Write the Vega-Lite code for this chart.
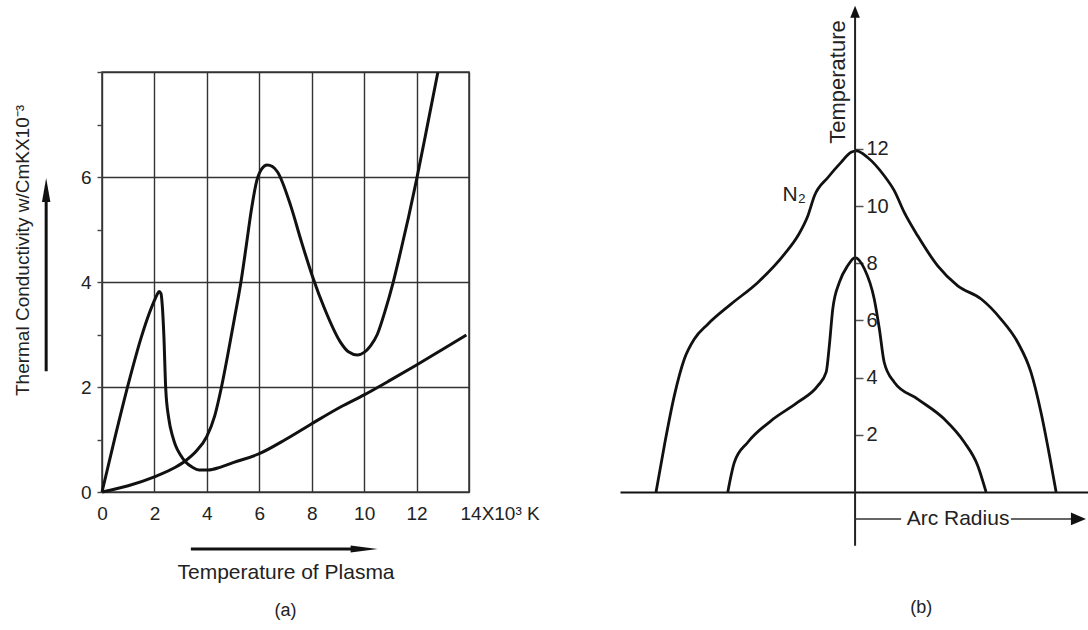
{
  "$schema": "https://vega.github.io/schema/vega-lite/v6.json",
  "background": "white",
  "padding": {"left": 12, "top": 5, "right": 0, "bottom": 0},
  "bounds": "flush",
  "spacing": 151,
  "config": {
    "font": "Liberation Sans",
    "view": {"stroke": "#444", "strokeWidth": 1.6},
    "axis": {"labelFlush": false, "labelOverlap": false, "labelFontSize": 19, "labelColor": "#222", "titleFontSize": 19, "titleFontWeight": "normal", "titleColor": "#222", "labelFont": "Liberation Sans", "titleFont": "Liberation Sans"},
    "title": {"fontSize": 18, "fontWeight": "normal", "color": "#222", "font": "Liberation Sans"}
  },
  "datasets": {
    "conductivity": [
      {"curve": "A", "temperature": 0, "conductivity": 0},
      {"curve": "A", "temperature": 0.5, "conductivity": 1.05},
      {"curve": "A", "temperature": 1.0, "conductivity": 2.05},
      {"curve": "A", "temperature": 1.5, "conductivity": 2.95},
      {"curve": "A", "temperature": 1.8, "conductivity": 3.4},
      {"curve": "A", "temperature": 2.0, "conductivity": 3.65},
      {"curve": "A", "temperature": 2.1, "conductivity": 3.76},
      {"curve": "A", "temperature": 2.18, "conductivity": 3.82},
      {"curve": "A", "temperature": 2.25, "conductivity": 3.78},
      {"curve": "A", "temperature": 2.3, "conductivity": 3.55},
      {"curve": "A", "temperature": 2.36, "conductivity": 2.98},
      {"curve": "A", "temperature": 2.43, "conductivity": 1.98},
      {"curve": "A", "temperature": 2.55, "conductivity": 1.39},
      {"curve": "A", "temperature": 2.7, "conductivity": 1.05},
      {"curve": "A", "temperature": 2.81, "conductivity": 0.88},
      {"curve": "A", "temperature": 3.0, "conductivity": 0.7},
      {"curve": "A", "temperature": 3.19, "conductivity": 0.57},
      {"curve": "A", "temperature": 3.45, "conductivity": 0.47},
      {"curve": "A", "temperature": 3.7, "conductivity": 0.42},
      {"curve": "A", "temperature": 4.05, "conductivity": 0.42},
      {"curve": "A", "temperature": 4.5, "conductivity": 0.47},
      {"curve": "A", "temperature": 5.0, "conductivity": 0.56},
      {"curve": "A", "temperature": 6.0, "conductivity": 0.73},
      {"curve": "A", "temperature": 7.0, "conductivity": 1.0},
      {"curve": "A", "temperature": 8.0, "conductivity": 1.3},
      {"curve": "A", "temperature": 9.1, "conductivity": 1.62},
      {"curve": "A", "temperature": 10.0, "conductivity": 1.85},
      {"curve": "A", "temperature": 11.0, "conductivity": 2.13},
      {"curve": "A", "temperature": 12.0, "conductivity": 2.42},
      {"curve": "A", "temperature": 13.0, "conductivity": 2.72},
      {"curve": "A", "temperature": 13.9, "conductivity": 2.99},
      {"curve": "B", "temperature": 0, "conductivity": 0},
      {"curve": "B", "temperature": 1.0, "conductivity": 0.12},
      {"curve": "B", "temperature": 2.0, "conductivity": 0.29},
      {"curve": "B", "temperature": 2.8, "conductivity": 0.47},
      {"curve": "B", "temperature": 3.2, "conductivity": 0.6},
      {"curve": "B", "temperature": 3.6, "conductivity": 0.78},
      {"curve": "B", "temperature": 4.0, "conductivity": 1.06},
      {"curve": "B", "temperature": 4.3, "conductivity": 1.45},
      {"curve": "B", "temperature": 4.55, "conductivity": 1.98},
      {"curve": "B", "temperature": 4.8, "conductivity": 2.62},
      {"curve": "B", "temperature": 5.05, "conductivity": 3.3},
      {"curve": "B", "temperature": 5.3, "conductivity": 4.0},
      {"curve": "B", "temperature": 5.5, "conductivity": 4.68},
      {"curve": "B", "temperature": 5.7, "conductivity": 5.38},
      {"curve": "B", "temperature": 5.9, "conductivity": 5.92},
      {"curve": "B", "temperature": 6.1, "conductivity": 6.16},
      {"curve": "B", "temperature": 6.3, "conductivity": 6.23},
      {"curve": "B", "temperature": 6.5, "conductivity": 6.2},
      {"curve": "B", "temperature": 6.69, "conductivity": 6.1},
      {"curve": "B", "temperature": 7.2, "conductivity": 5.45},
      {"curve": "B", "temperature": 7.6, "conductivity": 4.78},
      {"curve": "B", "temperature": 8.02, "conductivity": 4.12},
      {"curve": "B", "temperature": 8.5, "conductivity": 3.48},
      {"curve": "B", "temperature": 9.1, "conductivity": 2.85},
      {"curve": "B", "temperature": 9.4, "conductivity": 2.67},
      {"curve": "B", "temperature": 9.74, "conductivity": 2.61},
      {"curve": "B", "temperature": 10.0, "conductivity": 2.66},
      {"curve": "B", "temperature": 10.25, "conductivity": 2.79},
      {"curve": "B", "temperature": 10.5, "conductivity": 3.0},
      {"curve": "B", "temperature": 10.8, "conductivity": 3.45},
      {"curve": "B", "temperature": 11.1, "conductivity": 3.98},
      {"curve": "B", "temperature": 11.4, "conductivity": 4.6},
      {"curve": "B", "temperature": 11.7, "conductivity": 5.25},
      {"curve": "B", "temperature": 12.0, "conductivity": 5.95},
      {"curve": "B", "temperature": 12.4, "conductivity": 6.95},
      {"curve": "B", "temperature": 12.81, "conductivity": 7.99}
    ],
    "profiles": [
      {"curve": "N2", "radius": -6.96, "temp": 0},
      {"curve": "N2", "radius": -6.67, "temp": 1.62},
      {"curve": "N2", "radius": -6.32, "temp": 3.37},
      {"curve": "N2", "radius": -5.97, "temp": 4.65},
      {"curve": "N2", "radius": -5.62, "temp": 5.35},
      {"curve": "N2", "radius": -5.15, "temp": 5.87},
      {"curve": "N2", "radius": -4.34, "temp": 6.57},
      {"curve": "N2", "radius": -3.4, "temp": 7.33},
      {"curve": "N2", "radius": -2.47, "temp": 8.32},
      {"curve": "N2", "radius": -2.0, "temp": 8.96},
      {"curve": "N2", "radius": -1.65, "temp": 9.66},
      {"curve": "N2", "radius": -1.42, "temp": 10.36},
      {"curve": "N2", "radius": -0.95, "temp": 11.0},
      {"curve": "N2", "radius": -0.49, "temp": 11.53},
      {"curve": "N2", "radius": -0.14, "temp": 11.88},
      {"curve": "N2", "radius": 0.05, "temp": 11.93},
      {"curve": "N2", "radius": 0.44, "temp": 11.7},
      {"curve": "N2", "radius": 1.02, "temp": 11.06},
      {"curve": "N2", "radius": 1.37, "temp": 10.54},
      {"curve": "N2", "radius": 1.72, "temp": 9.78},
      {"curve": "N2", "radius": 2.19, "temp": 8.96},
      {"curve": "N2", "radius": 2.89, "temp": 7.91},
      {"curve": "N2", "radius": 3.59, "temp": 7.21},
      {"curve": "N2", "radius": 4.41, "temp": 6.75},
      {"curve": "N2", "radius": 5.1, "temp": 6.05},
      {"curve": "N2", "radius": 5.69, "temp": 5.23},
      {"curve": "N2", "radius": 6.15, "temp": 4.19},
      {"curve": "N2", "radius": 6.5, "temp": 2.79},
      {"curve": "N2", "radius": 6.8, "temp": 1.27},
      {"curve": "N2", "radius": 7.03, "temp": 0},
      {"curve": "inner", "radius": -4.45, "temp": 0},
      {"curve": "inner", "radius": -4.22, "temp": 1.04},
      {"curve": "inner", "radius": -3.75, "temp": 1.74},
      {"curve": "inner", "radius": -2.94, "temp": 2.49},
      {"curve": "inner", "radius": -2.0, "temp": 3.14},
      {"curve": "inner", "radius": -1.3, "temp": 3.72},
      {"curve": "inner", "radius": -1.01, "temp": 4.19},
      {"curve": "inner", "radius": -0.9, "temp": 5.12},
      {"curve": "inner", "radius": -0.78, "temp": 6.4},
      {"curve": "inner", "radius": -0.55, "temp": 7.33},
      {"curve": "inner", "radius": -0.26, "temp": 7.91},
      {"curve": "inner", "radius": 0.0, "temp": 8.2},
      {"curve": "inner", "radius": 0.33, "temp": 7.8},
      {"curve": "inner", "radius": 0.67, "temp": 6.75},
      {"curve": "inner", "radius": 0.85, "temp": 5.7},
      {"curve": "inner", "radius": 1.02, "temp": 4.53},
      {"curve": "inner", "radius": 1.37, "temp": 3.84},
      {"curve": "inner", "radius": 2.19, "temp": 3.25},
      {"curve": "inner", "radius": 3.12, "temp": 2.55},
      {"curve": "inner", "radius": 3.82, "temp": 1.74},
      {"curve": "inner", "radius": 4.29, "temp": 0.92},
      {"curve": "inner", "radius": 4.58, "temp": 0}
    ]
  },
  "hconcat": [
    {
      "width": 367,
      "height": 420,
      "title": {"text": "(a)", "orient": "bottom", "frame": "group", "anchor": "middle", "offset": 20},
      "layer": [
        {
          "data": {"name": "conductivity"},
          "mark": {"type": "line", "interpolate": "monotone", "strokeWidth": 3, "color": "#111"},
          "encoding": {
            "x": {
              "field": "temperature", "type": "quantitative",
              "scale": {"domain": [0, 14], "nice": false},
              "axis": {
                "title": "Temperature of Plasma",
                "titleFontSize": 21,
                "values": [0, 2, 4, 6, 8, 10, 12, 14],
                "labelExpr": "datum.value == 14 ? '14X10³ K' : datum.label",
                "labelAlign": {"condition": {"test": "datum.value == 14", "value": "left"}, "value": "center"},
                "labelOffset": {"condition": {"test": "datum.value == 14", "value": -9}, "value": 0},
                "ticks": false, "domain": false,
                "grid": true, "gridColor": "#333", "gridWidth": 1.4,
                "labelPadding": 12, "titlePadding": 38
              }
            },
            "y": {
              "field": "conductivity", "type": "quantitative",
              "scale": {"domain": [0, 8], "nice": false},
              "axis": {
                "title": "Thermal Conductivity w/CmKX10⁻³",
                "values": [0, 1, 2, 3, 4, 5, 6, 7, 8],
                "labelExpr": "datum.value % 2 == 0 && datum.value < 8 ? datum.label : ''",
                "domain": false, "ticks": true, "tickSize": 5, "tickColor": "#444", "tickWidth": 1.4,
                "labelPadding": 6,
                "grid": true, "gridColor": "#333", "gridWidth": 1.4,
                "gridOpacity": {"condition": {"test": "datum.value % 2 == 0", "value": 1}, "value": 0},
                "titleX": -70, "titleY": 178
              }
            },
            "detail": {"field": "curve"}
          }
        },
        {
          "data": {"values": [{}]},
          "mark": {"type": "rule", "strokeWidth": 3, "color": "#111"},
          "encoding": {"x": {"datum": -2.13}, "y": {"datum": 2.3}, "y2": {"datum": 5.6}}
        },
        {
          "data": {"values": [{}]},
          "mark": {"type": "point", "shape": "M0,-1L0.35,1L-0.35,1Z", "filled": true, "size": 576, "color": "#111", "opacity": 1},
          "encoding": {"x": {"datum": -2.13}, "y": {"datum": 5.752}}
        },
        {
          "data": {"values": [{}]},
          "mark": {"type": "rule", "strokeWidth": 3, "color": "#111"},
          "encoding": {"x": {"datum": 3.39}, "x2": {"datum": 9.9}, "y": {"datum": -1.086}}
        },
        {
          "data": {"values": [{}]},
          "mark": {"type": "point", "shape": "M1,0L-1,-0.26L-1,0.26Z", "filled": true, "size": 729, "color": "#111", "opacity": 1},
          "encoding": {"x": {"datum": 10.0}, "y": {"datum": -1.086}}
        }
      ]
    },
    {
      "width": 469,
      "height": 420,
      "view": {"stroke": null},
      "layer": [
        {
          "data": {"name": "profiles"},
          "mark": {"type": "line", "interpolate": "monotone", "strokeWidth": 2.8, "color": "#111"},
          "encoding": {
            "x": {
              "field": "radius", "type": "quantitative",
              "scale": {"domain": [-8.22, 8.18], "nice": false, "zero": false},
              "axis": {"title": null, "labels": false, "ticks": false, "grid": false, "domain": true, "domainColor": "#111", "domainWidth": 2}
            },
            "y": {
              "field": "temp", "type": "quantitative",
              "scale": {"domain": [0, 14.69], "nice": false},
              "axis": {
                "title": null, "orient": "right", "offset": -234,
                "values": [2, 4, 6, 8, 10, 12],
                "domain": false, "grid": false,
                "tickSize": 8, "tickColor": "#555", "tickWidth": 1.5,
                "labelFontSize": 20,
                "labelPadding": 3, "labelAlign": "left", "labelBaseline": "middle"
              }
            },
            "detail": {"field": "curve"}
          }
        },
        {
          "data": {"values": [{}]},
          "mark": {"type": "rule", "strokeWidth": 2, "color": "#222"},
          "encoding": {"x": {"datum": 0}, "y": {"datum": -1.88}, "y2": {"datum": 16.7}}
        },
        {
          "data": {"values": [{}]},
          "mark": {"type": "point", "shape": "M0,-1L0.8,1L-0.8,1Z", "filled": true, "size": 144, "color": "#111", "opacity": 1},
          "encoding": {"x": {"datum": 0}, "y": {"datum": 16.8}}
        },
        {
          "data": {"values": [{}]},
          "mark": {"type": "rule", "strokeWidth": 1.5, "color": "#333"},
          "encoding": {"x": {"datum": 0}, "x2": {"datum": 1.61}, "y": {"datum": -0.944}}
        },
        {
          "data": {"values": [{}]},
          "mark": {"type": "rule", "strokeWidth": 1.5, "color": "#333"},
          "encoding": {"x": {"datum": 5.45}, "x2": {"datum": 7.7}, "y": {"datum": -0.944}}
        },
        {
          "data": {"values": [{}]},
          "mark": {"type": "point", "shape": "M1,0L-1,-0.85L-1,0.85Z", "filled": true, "size": 225, "color": "#111", "opacity": 1},
          "encoding": {"x": {"datum": 7.81}, "y": {"datum": -0.944}}
        },
        {
          "data": {"values": [{}]},
          "mark": {"type": "text", "text": "Arc Radius", "fontSize": 21, "align": "center", "baseline": "middle", "color": "#222"},
          "encoding": {"x": {"datum": 3.6}, "y": {"datum": -0.944}}
        },
        {
          "data": {"values": [{}]},
          "mark": {"type": "text", "text": "Temperature", "fontSize": 22, "angle": 270, "align": "center", "baseline": "alphabetic", "color": "#222"},
          "encoding": {"x": {"datum": -0.35}, "y": {"datum": 14.34}}
        },
        {
          "data": {"values": [{}]},
          "mark": {"type": "text", "text": "N₂", "fontSize": 21, "align": "center", "baseline": "middle", "color": "#222"},
          "encoding": {"x": {"datum": -2.13}, "y": {"datum": 10.38}}
        },
        {
          "data": {"values": [{}]},
          "mark": {"type": "text", "text": "(b)", "fontSize": 18, "align": "center", "baseline": "middle", "color": "#222"},
          "encoding": {"x": {"datum": 2.31}, "y": {"datum": -4.06}}
        }
      ]
    }
  ]
}
